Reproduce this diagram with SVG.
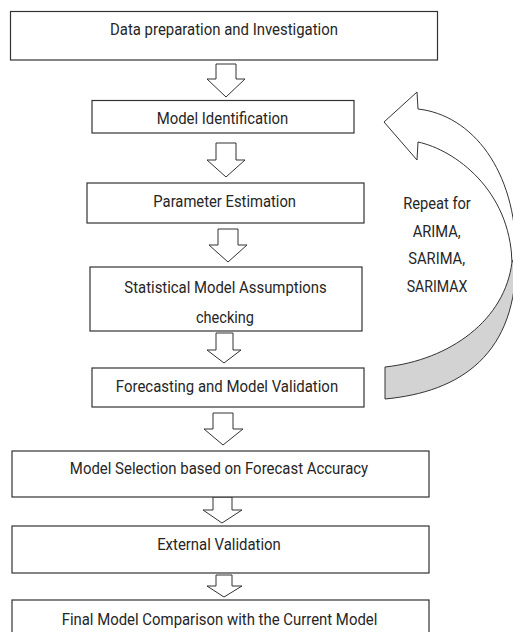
<svg xmlns="http://www.w3.org/2000/svg" width="513" height="632" viewBox="0 0 513 632">
<style>
.box{fill:#fff;stroke:#333;stroke-width:1.2}
.arr{fill:#fff;stroke:#333;stroke-width:1;stroke-linejoin:miter}
.t{font-family:Roboto,"Liberation Sans",sans-serif;font-size:16px;fill:#262626;text-anchor:middle}
.loop{stroke:#333;stroke-width:1;stroke-linejoin:miter}
</style>
<rect width="513" height="632" fill="#fff"/>
<g id="connectors">
<polygon class="arr" points="216,64 236,64 236,79 245,79 226,97 207,79 216,79"/>
<polygon class="arr" points="216,143 236,143 236,160 245,160 226,177 207,160 216,160"/>
<polygon class="arr" points="218,229 238,229 238,245 247,245 228,262 209,245 218,245"/>
<polygon class="arr" points="216,333 233,333 233,350 241,350 224,363 207,350 216,350"/>
<polygon class="arr" points="213,413 233,413 233,429 243,429 223,445 204,429 213,429"/>
<polygon class="arr" points="213,497 232,497 232,510 242,510 222,523 203,510 213,510"/>
<polygon class="arr" points="216,575 232,575 232,586 242,586 224,597 207,586 216,586"/>
<g id="repeat-loop">
<path class="loop" fill="#d3d3d3" d="M516,255 C518,355 460,392 385,399 L385,367 C450,360 505,320 512,262 Z"/>
<path class="loop" fill="#fff" d="M384,122 L417,92 L418,109 C472,115 516,170 516,255 L512,262 C510,190 455,150 418,142 L417,160 Z"/>
</g>
</g>
<g id="n1"><rect class="box" x="10.5" y="11.5" width="427" height="48.5"/><text class="t" x="224" y="35" textLength="228" lengthAdjust="spacingAndGlyphs">Data preparation and Investigation</text></g>
<g id="n2"><rect class="box" x="92" y="100.5" width="262" height="32.5"/><text class="t" x="222.5" y="124" textLength="131.7" lengthAdjust="spacingAndGlyphs">Model Identification</text></g>
<g id="n3"><rect class="box" x="87" y="183" width="277" height="40"/><text class="t" x="224.7" y="207" textLength="142.7" lengthAdjust="spacingAndGlyphs">Parameter Estimation</text></g>
<g id="n4"><rect class="box" x="90" y="267" width="272" height="64"/><text class="t" x="225.5" y="292.5" textLength="202.3" lengthAdjust="spacingAndGlyphs">Statistical Model Assumptions</text><text class="t" x="225" y="322.5" textLength="58" lengthAdjust="spacingAndGlyphs">checking</text></g>
<g id="n5"><rect class="box" x="92" y="368" width="272" height="39"/><text class="t" x="227" y="391.5" textLength="222.3" lengthAdjust="spacingAndGlyphs">Forecasting and Model Validation</text></g>
<g id="n6"><rect class="box" x="12" y="451" width="417" height="46"/><text class="t" x="219" y="474" textLength="298.3" lengthAdjust="spacingAndGlyphs">Model Selection based on Forecast Accuracy</text></g>
<g id="n7"><rect class="box" x="12" y="526" width="417" height="47"/><text class="t" x="219" y="550" textLength="123.7" lengthAdjust="spacingAndGlyphs">External Validation</text></g>
<g id="n8"><rect class="box" x="12" y="600" width="417" height="45"/><text class="t" x="219.5" y="625" textLength="315.7" lengthAdjust="spacingAndGlyphs">Final Model Comparison with the Current Model</text></g>
<g id="repeat-label">
<text class="t" x="437" y="209" textLength="67.7" lengthAdjust="spacingAndGlyphs">Repeat for</text>
<text class="t" x="436.7" y="236.7" textLength="48" lengthAdjust="spacingAndGlyphs">ARIMA,</text>
<text class="t" x="436.7" y="264" textLength="56.7" lengthAdjust="spacingAndGlyphs">SARIMA,</text>
<text class="t" x="437" y="291.7" textLength="60.7" lengthAdjust="spacingAndGlyphs">SARIMAX</text>
</g>
</svg>
